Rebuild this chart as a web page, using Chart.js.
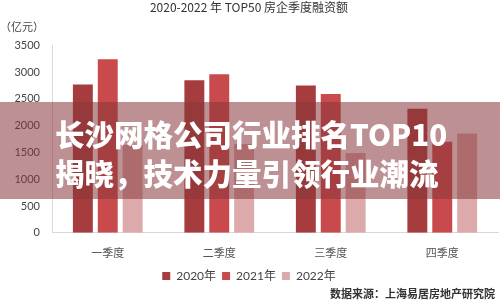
<!DOCTYPE html>
<html>
<head>
<meta charset="utf-8">
<script src="https://cdn.jsdelivr.net/npm/chart.js@4/dist/chart.umd.min.js"></script>
<style>
  html, body { margin: 0; padding: 0; background: #fff; }
  #wrap { position: relative; width: 500px; height: 302px; overflow: hidden; }
  #chart { display: block; }
  .banner {
    position: absolute; left: 0; top: 102px; width: 500px; height: 97px;
    background: rgba(135, 55, 58, 0.55);
    box-sizing: border-box; padding: 12px 0 0 55px;
    color: #fff; font-family: "Noto Sans CJK SC", sans-serif; font-weight: 900;
    font-size: 29.5px; line-height: 39px; white-space: nowrap;
  }
</style>
</head>
<body>
<div id="wrap">
  <canvas id="chart" width="500" height="302"></canvas>
  <div class="banner">长沙网格公司行业排名TOP10<br>揭晓，技术力量引领行业潮流</div>
</div>
<script>
  // data
  var categories = ["一季度", "二季度", "三季度", "四季度"];
  var seriesNames = ["2020年", "2021年", "2022年"];
  var values2020 = [2770, 2850, 2750, 2315];
  var values2021 = [3240, 2960, 2590, 1700];
  var values2022 = [1640, 1660, 1490, 1855];
  var yTicks = [0, 500, 1000, 1500, 2000, 2500, 3000, 3500];

  var colors = ["#a63c3d", "#c94a4c", "#dcaaab"];
  var fontFamily = "Lato, 'Noto Sans CJK SC', sans-serif";

  // extra texts: unit label and source line
  var extraText = {
    id: "extraText",
    afterDraw: function (chart) {
      var ctx = chart.ctx;
      ctx.save();
      ctx.fillStyle = "#444";
      ctx.font = "11px 'Noto Sans CJK SC', sans-serif";
      ctx.textAlign = "left";
      ctx.textBaseline = "middle";
      ctx.fillText("（亿元）", 0, 27);
      ctx.fillStyle = "#333";
      ctx.font = "bold 11px 'Noto Sans CJK SC', sans-serif";
      ctx.textAlign = "right";
      ctx.fillText("数据来源：上海易居房地产研究院", 495, 294);
      ctx.restore();
    }
  };

  new Chart(document.getElementById("chart").getContext("2d"), {
    type: "bar",
    data: {
      labels: categories,
      datasets: [
        { label: seriesNames[0], data: values2020, backgroundColor: colors[0] },
        { label: seriesNames[1], data: values2021, backgroundColor: colors[1] },
        { label: seriesNames[2], data: values2022, backgroundColor: colors[2] }
      ]
    },
    options: {
      responsive: false,
      animation: false,
      categoryPercentage: 0.67,
      barPercentage: 0.8,
      layout: { padding: { left: 0, right: 2, top: 0, bottom: 10 } },
      plugins: {
        title: {
          display: true,
          text: "2020-2022 年 TOP50 房企季度融资额",
          color: "#333",
          font: { family: "'Noto Sans CJK SC', sans-serif", size: 12, weight: "normal" },
          padding: { top: 0, bottom: 31 }
        },
        legend: {
          position: "bottom",
          labels: {
            color: "#444",
            boxWidth: 8, boxHeight: 8, padding: 6,
            font: { family: fontFamily, size: 12 }
          }
        },
        tooltip: { enabled: false }
      },
      scales: {
        x: {
          grid: { display: false },
          border: { display: true, color: "#d9d9d9" },
          ticks: {
            color: "#555", padding: 5,
            font: { family: "'Noto Sans CJK SC', sans-serif", size: 11 }
          }
        },
        y: {
          min: 0, max: 3500,
          afterFit: function (scale) { scale.width = 52; },
          afterBuildTicks: function (scale) {
            scale.ticks = yTicks.map(function (v) { return { value: v }; });
          },
          grid: { display: false, drawTicks: false },
          border: { display: true, color: "#d9d9d9" },
          ticks: {
            color: "#444", padding: 12,
            font: { family: fontFamily, size: 11 },
            callback: function (v) { return String(v); }
          }
        }
      }
    },
    plugins: [extraText]
  });
</script>
</body>
</html>
